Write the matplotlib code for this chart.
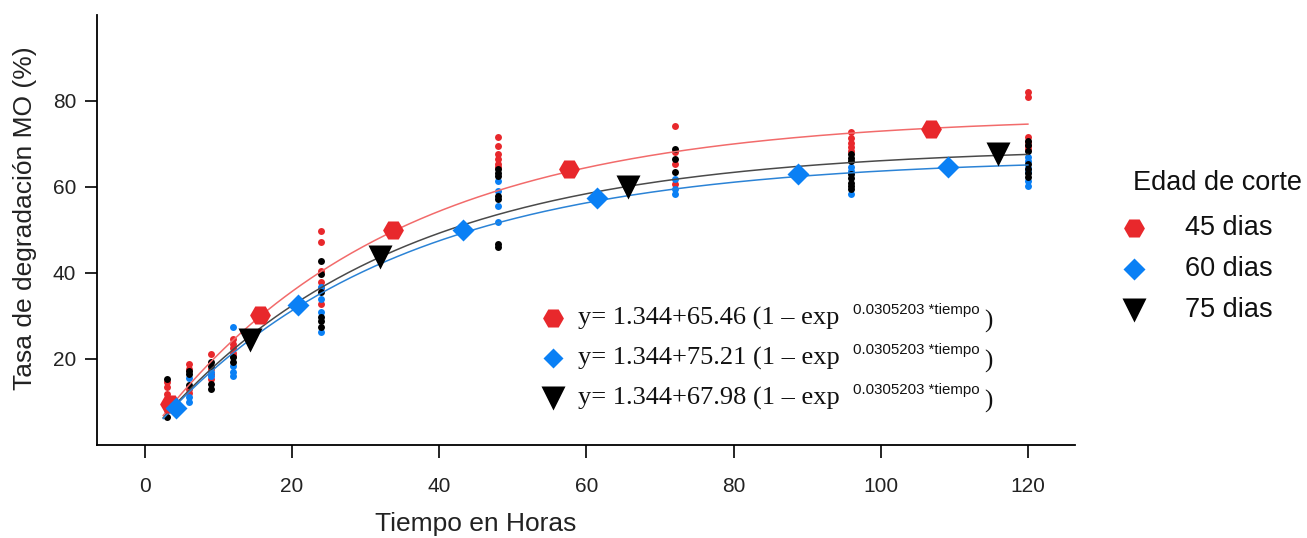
import numpy as np
import matplotlib
matplotlib.use("Agg")
import matplotlib.pyplot as plt
from matplotlib.lines import Line2D

W, H = 1307, 538

# ---------------- data ----------------
# observed values (t in hours -> list of % degradation)
red_obs = {3: [14.6, 13.4, 11.8, 10.5, 9.5, 9.0], 6: [18.8, 17.7, 13.0, 12.0],
           9: [21.2, 17.7, 16.5, 15.3], 12: [24.7, 23.5, 22.5, 21.5, 20.7],
           24: [49.8, 47.2, 40.5, 37.9, 36.5, 32.8],
           48: [71.6, 69.5, 67.7, 66.5, 65.3, 64.7], 72: [74.2, 68.1, 65.3, 60.7],
           96: [72.8, 71.5, 70.2, 69.3, 68.4], 120: [82.1, 80.9, 71.6, 70.5, 69.5, 68.8]}
blue_obs = {3: [10.0, 9.0, 8.2], 6: [15.5, 11.2, 10.0], 9: [17.0, 16.0],
            12: [27.5, 18.4, 17.0, 16.0], 24: [36.7, 34.0, 31.0, 26.3],
            48: [61.4, 59.1, 55.6, 51.9], 72: [61.9, 59.5, 58.4],
            96: [64.7, 63.7, 58.4], 120: [67.0, 66.0, 64.5, 63.5, 61.5, 60.2]}
black_obs = {3: [15.3, 10.0, 8.5, 6.5], 6: [17.2, 16.5, 14.0], 9: [19.3, 18.4, 14.2, 13.0],
             12: [20.5, 19.3], 24: [42.8, 39.8, 35.5, 29.8, 28.8, 27.4],
             48: [64.2, 63.2, 62.6, 57.9, 57.2, 46.7, 46.0], 72: [68.8, 66.5, 63.5],
             96: [67.7, 66.8, 66.0, 63.0, 62.0, 61.0, 60.2, 59.5],
             120: [70.7, 69.8, 68.4, 65.3, 64.2, 63.2, 62.3]}

# large markers placed on the fitted curves
red_mark_t = [3.4, 15.6, 33.7, 57.7, 106.8]
red_mark_y = [9.5, 30.2, 50.0, 64.2, 73.5]
blue_mark_t = [4.3, 20.8, 43.3, 61.5, 88.7, 109.1]
blue_mark_y = [8.6, 32.6, 50.0, 57.4, 63.0, 64.7]
black_mark_t = [14.3, 31.9, 65.6, 115.9]
black_mark_y = [24.4, 43.7, 60.0, 67.7]

# fitted model y = a + b (1 - exp(-c t))
a_fit = 1.344
c_fit = 0.0305203
b_red, b_blue, b_black = 75.21, 65.46, 67.98

# equation labels as printed
eq_b_labels = ["65.46", "75.21", "67.98"]
series_names = ["45 dias", "60 dias", "75 dias"]
x_ticks = [0, 20, 40, 60, 80, 100, 120]
y_ticks = [20, 40, 60, 80]

# ---------------- styles ----------------
c_red, c_blue, c_black = "#E8282C", "#0A80F5", "#000000"
l_red, l_blue, l_black = "#F26B6B", "#2B83D6", "#4A4A4A"

fig = plt.figure(figsize=(W / 100, H / 100), dpi=100)
ax = fig.add_axes([97 / W, 1 - 445 / H, (1075 - 97) / W, (445 - 15) / H])
ax.set_xlim(-6.5, 126.4)
ax.set_ylim(0, 100)

def dots(obs, col):
    for t, vals in obs.items():
        ax.plot([t] * len(vals), vals, "o", ms=5, color=col, mec="none", zorder=3)

dots(red_obs, c_red)
dots(blue_obs, c_blue)
dots(black_obs, c_black)

tt = np.linspace(2.5, 120, 300)
for b, col in [(b_red, l_red), (b_black, l_black), (b_blue, l_blue)]:
    ax.plot(tt, a_fit + b * (1 - np.exp(-c_fit * tt)), color=col, lw=1.1, zorder=4)

ax.plot(red_mark_t, red_mark_y, "H", ms=15, color=c_red, mec="none", ls="none", zorder=5)
ax.plot(blue_mark_t, blue_mark_y, "D", ms=11, color=c_blue, mec="none", ls="none", zorder=5)
ax.plot(black_mark_t, black_mark_y, "v", ms=17, color=c_black, mec="none", ls="none", zorder=5)

for s in ["top", "right"]:
    ax.spines[s].set_visible(False)
for s in ["left", "bottom"]:
    ax.spines[s].set_linewidth(1.3)
ax.set_xticks(x_ticks)
ax.set_yticks(y_ticks)
ax.set_xticklabels([str(v) for v in x_ticks], family="Liberation Sans", fontsize=15,
                   color="#222222")
ax.set_yticklabels([str(v) for v in y_ticks], family="Liberation Sans", fontsize=15,
                   color="#222222")
ax.tick_params(axis="x", length=9, width=1.2, pad=14)
ax.tick_params(axis="y", length=9, width=1.2, pad=6)

fig.text(476 / W, 1 - 524 / H, "Tiempo en Horas", ha="center", va="center",
         fontsize=19, family="Liberation Sans", color="#222222")
fig.text(25 / W, 1 - 218 / H, "Tasa de degradación MO (%)", ha="center", va="center",
         rotation=90, fontsize=19, family="Liberation Sans", color="#222222")

# equation legend
eq_markers = [("H", c_red, 15), ("D", c_blue, 10), ("v", c_black, 17)]
for i, ((m, col, ms), bl) in enumerate(zip(eq_markers, eq_b_labels)):
    yp = 318 + 40 * i
    fig.add_artist(Line2D([553 / W], [1 - yp / H], marker=m, ms=ms, color=col,
                          mec="none", ls="none", transform=fig.transFigure))
    fig.text(578 / W, 1 - yp / H, f"y= {a_fit}+{bl} (1 \u2013 exp", va="center",
             ha="left", fontsize=19, family="Liberation Serif", color="#111111")
    fig.text(853 / W, 1 - (yp - 8) / H, "0.0305203 *tiempo", fontsize=10.8,
             family="Liberation Sans", color="#111111", va="center", ha="left")
    fig.text(984 / W, 1 - (yp + 3) / H, ")", va="center", ha="left", fontsize=18,
             family="Liberation Serif", color="#111111")

# right legend
fig.text(1133 / W, 1 - 183 / H, "Edad de corte", va="center", ha="left",
         fontsize=19.5, family="Liberation Sans", color="#111111")
leg_markers = [("H", c_red, 15), ("D", c_blue, 11), ("v", c_black, 17)]
for i, ((m, col, ms), name) in enumerate(zip(leg_markers, series_names)):
    yp = 228 + 41 * i
    fig.add_artist(Line2D([1134 / W], [1 - yp / H], marker=m, ms=ms, color=col,
                          mec="none", ls="none", transform=fig.transFigure))
    fig.text(1185 / W, 1 - yp / H, name, va="center", ha="left", fontsize=19.5,
             family="Liberation Sans", color="#111111")

fig.savefig("out.png", dpi=100)
